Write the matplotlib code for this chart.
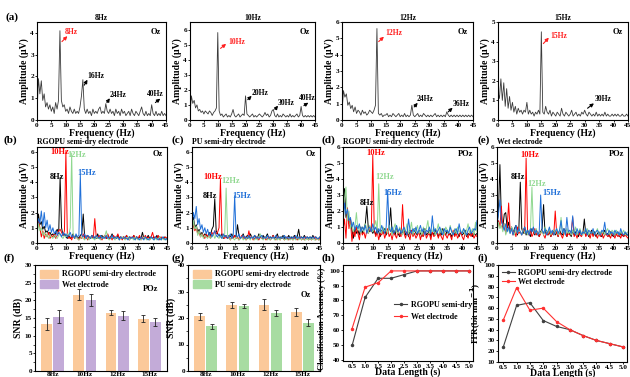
import numpy as np
import matplotlib
matplotlib.use("Agg")
import matplotlib.pyplot as plt
from matplotlib.patches import Patch
from matplotlib.ticker import AutoMinorLocator

plt.rcParams['font.family'] = ['Liberation Serif', 'DejaVu Serif']
plt.rcParams['font.weight'] = 'bold'
plt.rcParams['axes.labelweight'] = 'bold'
plt.rcParams['axes.titleweight'] = 'bold'

# frequency bins of the spectra (Hz)
freq = np.arange(0, 45.5, 0.5)

# ---- (a) single-frequency spectra at Oz ----
a8 = [0.3, 1.9, 1.2, 1.8, 0.9, 1.2, 0.6, 0.8, 0.5, 0.7,
      0.4, 0.6, 0.3, 0.8, 0.5, 0.9, 4.1, 0.9, 0.6, 0.7,
      0.4, 0.5, 0.3, 0.6, 0.4, 0.3, 0.5, 0.3, 0.4, 0.3,
      0.6, 1.1, 1.85, 0.5, 0.3, 0.5, 0.3, 0.4, 0.2, 0.5,
      0.3, 0.4, 0.3, 0.5, 0.6, 0.3, 0.4, 0.3, 0.75, 0.4,
      0.3, 0.5, 0.3, 0.4, 0.2, 0.5, 0.3, 0.4, 0.2, 0.5,
      0.3, 0.4, 0.2, 0.3, 0.4, 0.2, 0.5, 0.3, 0.2, 0.4,
      0.3, 0.2, 0.4, 0.6, 0.3, 0.2, 0.4, 0.2, 0.3, 0.2,
      0.7, 0.3, 0.2, 0.4, 0.2, 0.3, 0.2, 0.4, 0.2, 0.3,
      0.2]
a10 = [0.4, 1.6, 1.1, 1.3, 0.8, 1.0, 0.6, 0.7, 0.5, 0.6,
       0.4, 0.6, 0.5, 0.4, 0.6, 0.5, 0.3, 0.5, 0.6, 0.8,
       5.8, 0.6, 0.3, 0.4, 0.2, 0.3, 0.4, 0.2, 0.3, 0.2,
       0.4, 0.7, 0.3, 0.2, 0.3, 0.4, 0.2, 0.3, 0.4, 0.3,
       1.6, 0.4, 0.3, 0.2, 0.3, 0.4, 0.2, 0.3, 0.2, 0.3,
       0.4, 0.3, 0.2, 0.3, 0.5, 0.3, 0.4, 0.2, 0.3, 0.6,
       0.7, 0.3, 0.2, 0.4, 0.2, 0.3, 0.2, 0.4, 0.3, 0.2,
       0.3, 0.2, 0.4, 0.2, 0.3, 0.2, 0.3, 0.4, 0.2, 0.3,
       0.9, 0.3, 0.2, 0.3, 0.2, 0.3, 0.2, 0.3, 0.2, 0.3,
       0.2]
a12 = [0.5, 1.8, 1.4, 1.6, 0.9, 1.1, 0.7, 0.9, 0.5, 0.8,
       0.4, 0.6, 0.5, 0.3, 0.6, 0.4, 0.5, 0.3, 0.4, 0.6,
       0.5, 0.4, 0.6, 0.9, 5.6, 0.4, 0.3, 0.4, 0.2, 0.3,
       0.3, 0.4, 0.2, 0.3, 0.2, 0.4, 0.3, 0.2, 0.3, 0.4,
       0.2, 0.3, 0.2, 0.4, 0.2, 0.3, 0.2, 0.3, 0.9, 0.3,
       0.2, 0.3, 0.4, 0.2, 0.3, 0.2, 0.4, 0.3, 0.2, 0.3,
       0.2, 0.3, 0.2, 0.3, 0.4, 0.2, 0.3, 0.2, 0.3, 0.2,
       0.3, 0.2, 0.5, 0.3, 0.2, 0.3, 0.2, 0.3, 0.2, 0.3,
       0.2, 0.3, 0.2, 0.3, 0.2, 0.3, 0.2, 0.3, 0.2, 0.3,
       0.2]
a15 = [1.4, 1.1, 2.1, 1.0, 1.9, 0.7, 1.6, 0.6, 1.2, 0.5,
       0.9, 0.4, 0.7, 0.3, 0.6, 0.4, 0.5, 0.3, 0.5, 0.4,
       0.9, 0.3, 0.5, 0.3, 0.4, 0.2, 0.4, 0.3, 0.5, 0.3,
       4.5, 0.4, 0.3, 0.7, 0.4, 0.3, 0.5, 0.2, 0.4, 0.3,
       0.2, 0.4, 0.3, 0.2, 0.6, 0.3, 0.2, 0.4, 0.3, 0.2,
       0.3, 0.5, 0.2, 0.3, 0.4, 0.2, 0.3, 0.2, 0.4, 0.3,
       0.5, 0.3, 0.2, 0.4, 0.3, 0.2, 0.3, 0.2, 0.4, 0.2,
       0.3, 0.2, 0.3, 0.2, 0.4, 0.2, 0.3, 0.2, 0.2, 0.3,
       0.2, 0.3, 0.2, 0.3, 0.2, 0.2, 0.3, 0.2, 0.2, 0.3,
       0.2]

# ---- (b) RGOPU semi-dry, Oz ----
b8 = [0.5, 1.9, 1.2, 1.4, 0.9, 1.1, 0.7, 0.8, 0.6, 0.7,
      0.5, 0.6, 0.4, 0.7, 0.9, 0.6, 4.3, 1.0, 0.5, 0.6,
      0.4, 0.3, 0.5, 0.3, 0.4, 0.6, 0.3, 0.5, 0.4, 0.3,
      0.5, 0.6, 1.9, 0.4, 0.3, 0.5, 0.4, 0.3, 0.5, 0.3,
      0.4, 0.3, 0.6, 0.3, 0.4, 0.5, 0.3, 0.4, 0.3, 0.5,
      0.3, 0.4, 0.6, 0.3, 0.4, 0.3, 0.5, 0.3, 0.4, 0.3,
      0.4, 0.3, 0.5, 0.3, 0.4, 0.3, 0.3, 0.5, 0.3, 0.4,
      0.3, 0.4, 0.3, 0.7, 0.3, 0.4, 0.3, 0.5, 0.3, 0.4,
      0.3, 0.4, 0.3, 0.5, 0.3, 0.4, 0.3, 0.3, 0.4, 0.3,
      0.3]
b10 = [0.6, 1.5, 1.0, 0.4, 0.8, 0.3, 0.6, 0.4, 0.7, 0.3,
       0.5, 0.4, 0.6, 0.3, 0.5, 0.8, 0.9, 0.7, 0.5, 0.8,
       6.0, 0.5, 0.3, 0.4, 0.2, 0.5, 0.3, 0.4, 0.3, 0.2,
       0.4, 0.3, 0.6, 0.3, 0.5, 0.2, 0.4, 0.3, 0.5, 0.3,
       1.6, 0.4, 0.3, 0.5, 0.3, 0.2, 0.4, 0.5, 0.3, 0.6,
       0.3, 0.4, 0.2, 0.5, 0.3, 0.4, 0.6, 0.3, 0.4, 0.2,
       0.4, 0.3, 0.5, 0.3, 0.2, 0.4, 0.3, 0.5, 0.3, 0.4,
       0.3, 0.5, 0.2, 0.4, 0.3, 0.5, 0.3, 0.4, 0.2, 0.4,
       0.7, 0.3, 0.4, 0.3, 0.5, 0.2, 0.4, 0.3, 0.3, 0.4,
       0.3]
b12 = [0.4, 1.3, 0.8, 1.0, 0.5, 0.7, 0.4, 0.6, 0.3, 0.5,
       0.4, 0.3, 0.5, 0.4, 0.3, 0.5, 0.6, 0.4, 0.3, 0.5,
       0.4, 0.6, 0.5, 1.0, 5.9, 0.6, 0.3, 0.4, 0.3, 0.2,
       0.3, 0.4, 0.3, 0.2, 0.4, 0.3, 0.2, 0.4, 0.3, 0.3,
       0.2, 0.4, 0.3, 0.3, 0.2, 0.4, 0.3, 0.5, 0.8, 0.3,
       0.2, 0.3, 0.4, 0.3, 0.2, 0.4, 0.3, 0.2, 0.3, 0.4,
       0.3, 0.2, 0.3, 0.4, 0.2, 0.3, 0.3, 0.2, 0.4, 0.3,
       0.2, 0.3, 0.2, 0.3, 0.4, 0.3, 0.2, 0.3, 0.2, 0.3,
       0.3, 0.2, 0.3, 0.2, 0.3, 0.4, 0.2, 0.3, 0.2, 0.3,
       0.2]
b15 = [0.9, 1.6, 1.3, 2.1, 1.1, 2.0, 1.0, 1.5, 0.8, 1.2,
       0.7, 1.0, 0.6, 0.8, 0.5, 0.7, 0.6, 0.4, 0.7, 0.5,
       0.6, 0.4, 0.5, 0.7, 0.4, 0.5, 0.3, 0.6, 0.4, 0.5,
       4.5, 0.5, 0.4, 0.6, 0.3, 0.5, 0.4, 0.3, 0.5, 0.4,
       0.3, 0.5, 0.4, 0.3, 0.5, 0.3, 0.4, 0.3, 0.5, 0.3,
       0.4, 0.3, 0.5, 0.3, 0.4, 0.3, 0.4, 0.2, 0.4, 0.3,
       0.3, 0.4, 0.3, 0.2, 0.4, 0.3, 0.4, 0.3, 0.2, 0.4,
       0.3, 0.2, 0.4, 0.3, 0.2, 0.4, 0.3, 0.2, 0.3, 0.4,
       0.3, 0.2, 0.4, 0.3, 0.2, 0.3, 0.2, 0.4, 0.3, 0.2,
       0.3]

# ---- (c) PU semi-dry, Oz ----
c8 = [0.6, 1.7, 1.0, 1.2, 0.7, 0.9, 0.5, 0.7, 0.4, 0.6,
      0.5, 0.4, 0.7, 0.5, 0.9, 1.1, 2.9, 0.8, 0.6, 0.5,
      0.4, 0.6, 0.3, 0.5, 0.4, 0.3, 0.5, 0.4, 0.6, 0.3,
      0.5, 0.4, 1.2, 0.5, 0.3, 0.4, 0.6, 0.3, 0.4, 0.5,
      0.3, 0.6, 0.4, 0.3, 0.5, 0.4, 0.3, 0.6, 0.4, 0.3,
      0.5, 0.3, 0.4, 0.6, 0.3, 0.4, 0.3, 0.5, 0.3, 0.4,
      0.6, 0.3, 0.4, 0.3, 0.5, 0.3, 0.4, 0.3, 0.5, 0.3,
      0.4, 0.3, 0.5, 0.3, 0.4, 0.9, 0.3, 0.4, 0.3, 0.5,
      0.3, 0.4, 0.3, 0.4, 0.3, 0.5, 0.3, 0.4, 0.3, 0.3,
      0.4]
c10 = [0.5, 1.3, 0.8, 1.0, 0.6, 0.7, 0.4, 0.6, 0.5, 0.3,
       0.6, 0.4, 0.5, 0.3, 0.7, 0.5, 0.8, 0.6, 0.7, 1.0,
       4.2, 0.6, 0.4, 0.3, 0.5, 0.3, 0.4, 0.2, 0.4, 0.3,
       0.5, 0.3, 0.4, 0.2, 0.3, 0.5, 0.3, 0.4, 0.2, 0.3,
       0.8, 0.3, 0.4, 0.2, 0.3, 0.4, 0.3, 0.2, 0.4, 0.3,
       0.3, 0.4, 0.2, 0.3, 0.4, 0.2, 0.3, 0.5, 0.3, 0.2,
       0.4, 0.3, 0.2, 0.4, 0.3, 0.2, 0.3, 0.4, 0.2, 0.3,
       0.3, 0.2, 0.4, 0.3, 0.2, 0.3, 0.4, 0.2, 0.3, 0.2,
       0.4, 0.3, 0.2, 0.3, 0.2, 0.3, 0.4, 0.2, 0.3, 0.2,
       0.3]
c12 = [0.3, 1.5, 0.9, 1.1, 0.5, 0.8, 0.4, 0.6, 0.3, 0.5,
       0.4, 0.3, 0.5, 0.3, 0.4, 0.6, 0.3, 0.5, 0.4, 0.3,
       0.5, 0.3, 0.4, 0.6, 3.6, 0.5, 0.3, 0.2, 0.4, 0.3,
       0.2, 0.4, 0.3, 0.2, 0.3, 0.4, 0.2, 0.3, 0.2, 0.4,
       0.3, 0.2, 0.4, 0.3, 0.2, 0.3, 0.2, 0.4, 0.6, 0.3,
       0.2, 0.3, 0.4, 0.2, 0.3, 0.2, 0.3, 0.4, 0.2, 0.3,
       0.2, 0.3, 0.2, 0.4, 0.3, 0.2, 0.3, 0.2, 0.3, 0.2,
       0.3, 0.2, 0.3, 0.2, 0.4, 0.2, 0.3, 0.2, 0.3, 0.2,
       0.2, 0.3, 0.2, 0.3, 0.2, 0.3, 0.2, 0.2, 0.3, 0.2,
       0.2]
c15 = [1.0, 2.0, 1.6, 2.4, 1.2, 1.6, 0.9, 1.2, 0.7, 1.0,
       0.6, 0.9, 0.5, 0.7, 0.4, 0.6, 0.8, 0.5, 0.4, 0.6,
       0.5, 0.3, 0.6, 0.4, 0.5, 0.3, 0.4, 0.6, 0.3, 0.5,
       3.1, 0.5, 0.4, 0.6, 0.3, 0.4, 0.5, 0.3, 0.4, 0.3,
       0.5, 0.3, 0.4, 0.3, 0.5, 0.3, 0.4, 0.3, 0.4, 0.5,
       0.3, 0.4, 0.3, 0.5, 0.3, 0.4, 0.3, 0.4, 0.3, 0.5,
       0.3, 0.4, 0.3, 0.4, 0.3, 0.5, 0.3, 0.4, 0.3, 0.4,
       0.3, 0.4, 0.3, 0.5, 0.3, 0.4, 0.3, 0.4, 0.3, 0.4,
       0.3, 0.4, 0.3, 0.4, 0.3, 0.4, 0.3, 0.4, 0.3, 0.3,
       0.4]

# ---- (d) RGOPU semi-dry, POz ----
d8 = [1.0, 3.4, 1.6, 2.0, 1.2, 1.5, 0.8, 0.3, 1.0, 0.6,
      0.8, 0.5, 1.0, 0.6, 0.9, 1.2, 2.3, 0.9, 0.7, 1.0,
      0.6, 0.8, 0.5, 0.9, 0.7, 0.4, 0.8, 0.6, 0.9, 0.5,
      0.7, 1.0, 2.2, 0.6, 0.8, 0.5, 0.9, 0.6, 0.4, 0.8,
      0.6, 0.9, 0.5, 0.7, 0.4, 0.8, 0.6, 0.5, 0.9, 0.6,
      0.5, 0.8, 0.6, 0.4, 0.7, 0.9, 0.5, 0.6, 0.8, 0.4,
      0.7, 0.5, 0.8, 0.6, 0.4, 0.7, 0.5, 0.9, 0.6, 0.5,
      0.8, 0.5, 0.6, 0.4, 0.7, 0.5, 0.8, 0.6, 0.4, 0.7,
      0.5, 0.6, 0.8, 0.4, 0.6, 0.5, 0.7, 0.4, 0.6, 0.5,
      0.6]
d10 = [0.8, 1.5, 0.3, 2.2, 0.9, 1.4, 0.1, 0.8, 0.4, 1.0,
       0.6, 0.2, 0.9, 0.5, 0.7, 0.3, 0.8, 0.6, 1.0, 0.7,
       5.5, 0.8, 0.4, 0.7, 0.2, 0.6, 0.5, 0.8, 0.3, 0.6,
       0.9, 0.4, 0.6, 0.2, 0.7, 0.5, 0.3, 0.8, 0.5, 0.4,
       2.4, 0.6, 0.3, 0.7, 0.5, 0.2, 0.8, 0.4, 0.6, 0.3,
       0.5, 0.7, 0.2, 0.6, 0.4, 0.8, 0.3, 0.5, 0.6, 0.2,
       0.7, 0.4, 0.5, 0.8, 0.3, 0.6, 0.4, 0.2, 0.7, 0.5,
       0.3, 0.6, 0.5, 0.2, 0.8, 0.4, 0.6, 0.3, 0.5, 0.7,
       0.4, 0.2, 0.6, 0.5, 0.3, 0.7, 0.4, 0.6, 0.3, 0.5,
       0.4]
d12 = [0.9, 2.8, 3.5, 1.4, 2.0, 0.9, 1.3, 0.7, 1.0, 1.9,
       0.8, 1.1, 0.6, 1.0, 0.7, 1.2, 0.9, 0.6, 1.1, 0.8,
       0.7, 1.0, 1.4, 0.8, 3.7, 0.9, 0.6, 1.0, 0.7, 0.9,
       0.6, 1.1, 0.8, 0.5, 0.9, 1.2, 0.7, 0.6, 1.0, 0.8,
       0.5, 0.9, 0.7, 1.2, 0.6, 0.8, 1.3, 0.5, 0.9, 0.7,
       1.1, 0.6, 0.8, 0.5, 1.0, 0.7, 0.9, 1.4, 0.6, 0.8,
       0.7, 1.0, 0.5, 0.8, 1.2, 0.6, 0.9, 0.7, 0.5, 1.0,
       0.8, 0.6, 1.1, 0.7, 0.5, 0.9, 0.6, 1.0, 0.7, 0.8,
       0.6, 0.9, 0.5, 0.8, 1.2, 0.6, 0.7, 0.9, 0.5, 1.3,
       0.7]
d15 = [1.2, 2.5, 1.8, 2.1, 1.4, 1.6, 1.0, 1.3, 0.8, 1.1,
       0.9, 1.2, 0.7, 1.0, 0.8, 1.1, 0.6, 0.9, 1.0, 0.7,
       1.2, 0.8, 1.0, 0.6, 0.9, 0.7, 1.1, 0.8, 0.6, 1.0,
       3.3, 0.9, 0.7, 1.0, 0.6, 0.8, 1.1, 0.7, 0.9, 0.6,
       0.8, 1.0, 0.7, 0.5, 1.5, 0.8, 0.6, 0.9, 0.7, 1.0,
       0.6, 0.8, 1.1, 0.7, 0.9, 0.5, 0.8, 0.7, 1.0, 0.6,
       1.7, 0.7, 0.9, 0.6, 0.8, 1.0, 0.7, 0.5, 0.9, 0.7,
       0.8, 0.6, 1.0, 0.7, 0.5, 0.8, 0.9, 0.6, 1.2, 0.7,
       0.6, 0.9, 0.7, 0.5, 0.8, 1.0, 0.6, 0.7, 0.9, 0.8,
       1.4]

# ---- (e) wet electrode, POz ----
e8 = [1.2, 2.0, 4.9, 1.5, 1.0, 1.8, 1.9, 0.9, 1.3, 0.7,
      1.0, 0.6, 0.9, 1.1, 0.5, 0.8, 3.8, 0.9, 0.6, 1.0,
      0.5, 0.8, 0.6, 0.4, 0.9, 0.7, 0.5, 0.8, 0.6, 0.4,
      0.7, 0.9, 2.4, 0.6, 0.8, 0.5, 0.7, 0.4, 0.6, 0.8,
      0.5, 0.7, 0.4, 0.8, 0.6, 0.5, 0.9, 0.6, 0.4, 0.7,
      0.6, 0.4, 0.8, 0.5, 0.7, 0.6, 0.4, 0.8, 0.5, 0.6,
      1.5, 0.5, 0.7, 0.4, 0.6, 0.8, 0.5, 0.7, 0.4, 0.6,
      0.7, 0.5, 0.4, 0.6, 0.8, 0.5, 0.6, 0.4, 0.7, 0.5,
      0.4, 0.6, 0.5, 0.7, 0.4, 0.6, 0.5, 0.4, 0.6, 0.5,
      0.5]
e10 = [0.7, 1.4, 1.0, 2.3, 0.9, 1.2, 0.6, 1.0, 2.5, 0.8,
       0.9, 0.5, 0.8, 0.4, 1.0, 0.6, 0.7, 0.5, 0.9, 0.6,
       5.3, 0.7, 0.5, 0.8, 0.4, 0.6, 0.9, 0.5, 0.7, 0.4,
       0.6, 0.8, 0.5, 0.3, 0.7, 0.5, 0.8, 0.4, 0.6, 0.5,
       2.0, 0.6, 0.4, 0.7, 0.5, 0.3, 0.6, 0.8, 0.4, 0.6,
       0.5, 0.7, 1.6, 0.4, 0.6, 0.3, 0.7, 0.5, 0.4, 0.6,
       0.8, 0.4, 0.6, 0.5, 0.3, 0.7, 0.4, 0.6, 0.5, 0.3,
       0.6, 0.4, 0.7, 0.3, 0.5, 0.6, 0.4, 0.5, 0.3, 0.6,
       0.5, 0.3, 0.6, 0.4, 0.5, 0.3, 0.6, 0.4, 0.5, 0.4,
       0.3]
e12 = [0.6, 1.3, 0.9, 1.1, 0.7, 1.2, 0.5, 0.9, 0.8, 0.6,
       1.0, 0.7, 0.5, 0.9, 0.6, 0.8, 0.7, 0.5, 0.9, 0.6,
       0.8, 0.5, 0.7, 0.9, 3.5, 0.8, 0.6, 0.9, 0.5, 0.7,
       0.6, 0.8, 0.5, 1.0, 0.7, 0.6, 0.9, 0.5, 0.7, 0.8,
       0.6, 0.9, 0.5, 0.7, 1.6, 0.6, 0.8, 0.5, 0.9, 0.6,
       0.7, 0.5, 0.8, 0.6, 1.0, 0.5, 0.7, 0.9, 0.6, 0.5,
       0.8, 0.6, 0.9, 0.5, 0.7, 0.6, 0.8, 0.5, 0.7, 0.9,
       0.5, 0.7, 0.6, 0.8, 0.5, 0.7, 0.9, 0.6, 0.5, 0.8,
       0.7, 0.5, 0.8, 0.6, 0.5, 0.7, 0.6, 0.8, 0.5, 0.6,
       0.7]
e15 = [1.0, 1.8, 2.7, 1.4, 1.1, 0.8, 1.2, 0.7, 1.0, 0.6,
       0.9, 0.5, 0.8, 1.1, 0.6, 0.9, 0.7, 0.5, 0.8, 1.0,
       0.6, 0.8, 0.5, 0.9, 0.7, 1.0, 0.6, 0.8, 0.5, 0.7,
       3.0, 0.8, 0.6, 0.9, 0.5, 0.7, 1.0, 0.6, 0.8, 0.5,
       0.7, 0.9, 0.6, 0.8, 1.4, 0.6, 0.9, 0.5, 1.6, 0.7,
       0.8, 0.6, 1.7, 0.7, 0.5, 0.9, 0.6, 0.8, 0.5, 0.7,
       0.6, 0.9, 0.5, 0.8, 0.7, 0.6, 0.9, 0.5, 0.7, 0.8,
       0.6, 0.5, 0.8, 0.7, 1.3, 0.6, 0.5, 0.8, 0.6, 0.7,
       0.5, 0.8, 0.6, 0.7, 0.5, 0.9, 0.6, 0.5, 0.7, 0.6,
       0.5]

# ---- (f), (g) SNR bars ----
snr_cats = ['8Hz', '10Hz', '12Hz', '15Hz']
f_rgopu = [13.3, 21.6, 16.5, 14.8]
f_rgopu_err = [1.8, 1.6, 0.7, 1.0]
f_wet = [15.4, 20.2, 15.6, 13.9]
f_wet_err = [1.9, 1.7, 1.3, 1.1]
g_rgopu = [20.6, 24.9, 25.0, 22.3]
g_rgopu_err = [1.2, 1.0, 2.0, 1.5]
g_pu = [16.8, 24.5, 21.8, 18.2]
g_pu_err = [1.0, 0.8, 1.2, 1.3]

# ---- (h), (i) accuracy and ITR vs data length ----
data_len = [0.5, 1.0, 1.5, 2.0, 2.5, 3.0, 3.5, 4.0, 4.5, 5.0]
acc_rgopu = [49.5, 82, 95, 95, 97.5, 100, 100, 100, 100, 100]
acc_wet = [61, 89, 92, 100, 100, 100, 100, 100, 100, 100]
itr_rgopu = [24, 62.5, 65, 48.5, 43, 40, 34.5, 30, 27, 24]
itr_wet = [49, 79, 58, 60, 47.5, 40, 34.5, 30, 27, 24]

W, H = 630, 377
fig = plt.figure(figsize=(W / 100, H / 100), dpi=100)


def add(l, t, r, b):
    return fig.add_axes([l / W, 1 - b / H, (r - l) / W, (b - t) / H])


def style(ax):
    ax.tick_params(labelsize=5.2, length=1.6, width=0.6, pad=0.6, direction='out')
    for s in ax.spines.values():
        s.set_linewidth(0.8)


def spec_axes(ax, ymax, yticks):
    ax.set_xlim(0, 45)
    ax.set_ylim(0, ymax)
    ax.set_xticks(range(0, 46, 5))
    ax.set_yticks(yticks)
    ax.set_ylabel('Amplitude (\u03bcV)', fontsize=7, labelpad=1)
    ax.set_xlabel('Frequency (Hz)', fontsize=7, labelpad=0)
    style(ax)


def mark(ax, txt, tx, ty, x0, y0, x1, y1, color):
    ax.annotate('', xy=(x1, y1), xytext=(x0, y0),
                arrowprops=dict(arrowstyle='-|>', color=color, lw=0.8, mutation_scale=5,
                                shrinkA=0, shrinkB=0))
    ax.text(tx, ty, txt, color=color, fontsize=5.5, va='center', ha='left')


RED = '#ff2020'
GRAY = '#3a3a3a'

# row (a)
row_a = [
    (a8, '8Hz', (37, 22, 166, 120), 4.5, range(0, 5),
     [('8Hz', 9.8, 4.05, 8.7, 3.6, 10.6, 3.85, RED),
      ('16Hz', 17.6, 2.0, 16.5, 1.6, 17.6, 1.85, 'k'),
      ('24Hz', 25.3, 1.15, 24.4, 0.8, 25.4, 1.0, 'k'),
      ('40Hz', 38.3, 1.2, 41.3, 0.8, 43.0, 0.98, 'k')]),
    (a10, '10Hz', (190, 22, 315, 120), 6.5, range(0, 7),
     [('10Hz', 13.7, 5.2, 11.0, 4.75, 13.0, 5.05, RED),
      ('20Hz', 22.3, 1.8, 20.8, 1.35, 22.2, 1.6, 'k'),
      ('30Hz', 31.7, 1.15, 30.6, 0.7, 31.7, 0.95, 'k'),
      ('40Hz', 39.3, 1.45, 41.0, 0.95, 42.6, 1.15, 'k')]),
    (a12, '12Hz', (342, 22, 473, 120), 6, range(0, 7),
     [('12Hz', 14.8, 5.3, 12.6, 4.8, 14.4, 5.1, RED),
      ('24Hz', 25.8, 1.3, 24.8, 0.8, 26.0, 1.05, 'k'),
      ('36Hz', 38.0, 1.0, 36.5, 0.5, 38.0, 0.75, 'k')]),
    (a15, '15Hz', (498, 22, 628, 120), 5, range(0, 6),
     [('15Hz', 18.0, 4.3, 15.7, 3.9, 17.6, 4.2, RED),
      ('30Hz', 33.6, 1.08, 31.0, 0.6, 33.2, 0.85, 'k')]),
]
for vals, title, box, ymax, yt, marks in row_a:
    ax = add(*box)
    ax.plot(freq, vals, color=GRAY, lw=0.6)
    spec_axes(ax, ymax, yt)
    ax.set_title(title, fontsize=5.5, pad=1.5)
    ax.text(0.96, 0.9, 'Oz', transform=ax.transAxes, ha='right', va='center', fontsize=6)
    for m in marks:
        mark(ax, *m)

# rows (b)-(e)
C8, C10, C12, C15 = '#000000', '#ff0000', '#90d890', '#1f6fd8'
row_b = [
    ((b8, b10, b12, b15), 'RGOPU semi-dry electrode', 'Oz', (37, 147, 167, 243), 6.3,
     [('8Hz', 6.9, 4.3), ('10Hz', 8.0, 5.95), ('12Hz', 13.8, 5.8), ('15Hz', 17.3, 4.6)]),
    ((c8, c10, c12, c15), 'PU semi-dry electrode', 'Oz', (192, 147, 320, 243), 6.3,
     [('8Hz', 6.3, 3.1), ('10Hz', 7.4, 4.3), ('12Hz', 13.6, 4.1), ('15Hz', 17.5, 3.1)]),
    ((d8, d10, d12, d15), 'RGOPU semi-dry electrode', 'POz', (343, 147, 477, 243), 6,
     [('8Hz', 8.0, 2.5), ('10Hz', 11.0, 5.6), ('12Hz', 14.0, 4.1), ('15Hz', 16.7, 3.1)]),
    ((e8, e10, e12, e15), 'Wet electrode', 'POz', (497, 147, 628, 243), 6,
     [('8Hz', 7.2, 4.1), ('10Hz', 11.4, 5.5), ('12Hz', 13.6, 3.7), ('15Hz', 18.6, 3.15)]),
]
for traces, title, ch, box, ymax, labels in row_b:
    ax = add(*box)
    for vals, col in zip(traces, (C8, C10, C12, C15)):
        ax.plot(freq, vals, color=col, lw=0.7)
    spec_axes(ax, ymax, range(0, 7))
    ax.text(0.0, 1.01, title, transform=ax.transAxes, ha='left', va='bottom', fontsize=5.6)
    ax.text(0.97, 0.93, ch, transform=ax.transAxes, ha='right', va='center', fontsize=6)
    for (txt, x, y), col in zip(labels, (C8, C10, C12, C15)):
        ax.text(x, y, txt, color=col, fontsize=6, ha='center', va='center')

# (f), (g) bar charts
ORANGE, PURPLE, GREEN = '#fbc99a', '#c3abd8', '#a8dca2'
xpos = np.arange(1, 5)
bw = 0.34
bars = [
    ((35, 265, 167, 371), f_rgopu, f_rgopu_err, f_wet, f_wet_err, PURPLE,
     'Wet electrode', 'POz', 30, range(0, 31, 5), 0.77),
    ((188, 265, 320, 371), g_rgopu, g_rgopu_err, g_pu, g_pu_err, GREEN,
     'PU semi-dry electrode', 'Oz', 40, range(0, 41, 10), 0.72),
]
for box, v1, e1, v2, e2, col2, lab2, ch, ymax, yt, chy in bars:
    ax = add(*box)
    ekw = dict(elinewidth=0.6, capthick=0.6, capsize=1.5, ecolor='#222222')
    ax.bar(xpos - bw / 2 - 0.02, v1, bw, yerr=e1, color=ORANGE, error_kw=ekw)
    ax.bar(xpos + bw / 2 + 0.02, v2, bw, yerr=e2, color=col2, error_kw=ekw)
    ax.set_xlim(0.45, 4.55)
    ax.set_ylim(0, ymax)
    ax.set_yticks(yt)
    ax.yaxis.set_minor_locator(AutoMinorLocator(2))
    ax.set_xticks(xpos)
    ax.set_xticklabels(snr_cats)
    ax.set_ylabel('SNR (dB)', fontsize=7, labelpad=1)
    style(ax)
    ax.tick_params(which='minor', length=1.2, width=0.5)
    ax.tick_params(axis='x', length=0)
    ax.legend(handles=[Patch(color=ORANGE, label='RGOPU semi-dry electrode'),
                       Patch(color=col2, label=lab2)],
              loc='upper left', frameon=False, fontsize=5.8, handlelength=2.2,
              handleheight=1.1, borderaxespad=0.2, labelspacing=0.25, handletextpad=0.5)
    ax.text(0.93, chy, ch, transform=ax.transAxes, ha='right', va='center', fontsize=6)

# (h) accuracy
ax = add(343, 265, 473, 361)
ax.plot(data_len, acc_rgopu, color='#404040', lw=0.8, marker='o', ms=1.5, label='RGOPU semi-dry')
ax.plot(data_len, acc_wet, color='#ff3030', lw=0.8, marker='o', ms=1.5, label='Wet electrode')
ax.set_xlim(0.15, 5.15)
ax.set_ylim(39, 104)
ax.set_yticks(range(40, 101, 10))
ax.set_xticks(data_len)
ax.set_xlabel('Data Length (s)', fontsize=7, labelpad=-1)
ax.set_ylabel('Classification Accuracy (%)', fontsize=6.2)
ax.yaxis.set_label_coords(-0.13, 0.44)
style(ax)
ax.legend(loc='center left', bbox_to_anchor=(0.34, 0.52), frameon=False, fontsize=5.8,
          handlelength=1.6, labelspacing=0.5, handletextpad=0.4)

# (i) ITR
ax = add(498, 265, 627, 362)
ax.plot(data_len, itr_rgopu, color='#404040', lw=0.8, marker='o', ms=1.5,
        label='RGOPU semi-dry electrode')
ax.plot(data_len, itr_wet, color='#ff3030', lw=0.8, marker='o', ms=1.5, label='Wet electrode')
ax.set_xlim(0.3, 5.15)
ax.set_ylim(10, 100)
ax.set_yticks(range(10, 101, 10))
ax.set_xticks(data_len)
ax.set_xlabel('Data Length (s)', fontsize=7, labelpad=-1)
ax.set_ylabel('ITR(bit min$^{-1}$)', fontsize=6.5, labelpad=1)
style(ax)
ax.legend(loc='upper left', frameon=False, fontsize=5.8, handlelength=1.6,
          labelspacing=0.1, handletextpad=0.4, borderaxespad=0.1)

# panel letters
for txt, x, y in [('(a)', 5, 17), ('(b)', 3, 140), ('(c)', 172, 140), ('(d)', 322, 140),
                  ('(e)', 477, 140), ('(f)', 3, 258), ('(g)', 172, 258), ('(h)', 322, 258),
                  ('(i)', 477, 258)]:
    fig.text(x / W, 1 - y / H, txt, fontsize=8, ha='left', va='center')

fig.savefig('out.png', dpi=100)
